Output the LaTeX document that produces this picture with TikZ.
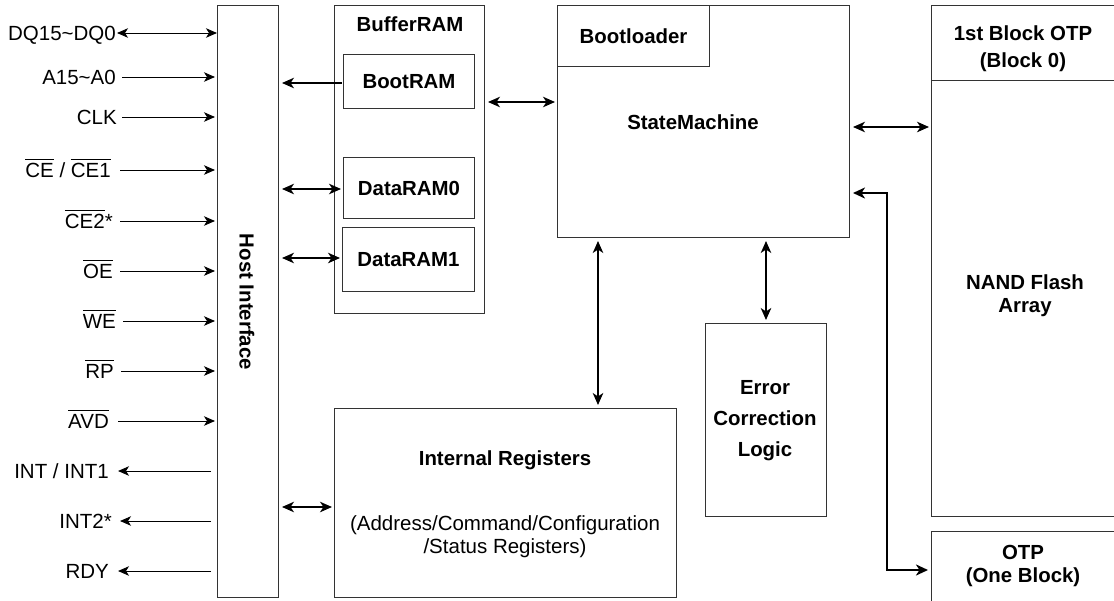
\documentclass[tikz,border=0pt]{standalone}
\usepackage{fontspec}
\setmainfont{Liberation Sans}
\usetikzlibrary{arrows.meta}
\newcommand{\ovl}[1]{\leavevmode\vbox{\hrule height 1.3pt\kern 3pt\hbox{#1}}}
\begin{document}
\begin{tikzpicture}[x=1pt,y=-1pt,
  every node/.style={inner sep=0pt, font=\fontsize{20.5}{23}\selectfont},
  bx/.style={draw=black!80, line width=1pt, anchor=north west, inner sep=0pt},
  bl/.style={font=\bfseries\fontsize{20.4}{23}\selectfont, align=center},
  sl/.style={anchor=east, text height=18.6pt, text depth=4pt},
  sig/.style={line width=1pt, -{Stealth[length=11pt,width=9.5pt,inset=3pt]}},
  sigb/.style={line width=1pt, {Stealth[length=11pt,width=9.5pt,inset=3pt]}-{Stealth[length=11pt,width=9.5pt,inset=3pt]}},
  lk/.style={line width=1.6pt, {Stealth[length=12pt,width=10.5pt,inset=3.5pt]}-{Stealth[length=12pt,width=10.5pt,inset=3.5pt]}},
  lkone/.style={line width=1.6pt, -{Stealth[length=12pt,width=10.5pt,inset=3.5pt]}},
  bent/.style={line width=2.4pt, {Stealth[length=12pt,width=11pt,inset=3.5pt]}-{Stealth[length=12pt,width=11pt,inset=3.5pt]}}
]
\useasboundingbox (0,0) rectangle (1114,600);
\clip (0,0) rectangle (1114,600);

% Host interface
\node[bx, minimum width=61pt, minimum height=592pt] (host) at (217,5) {};
\node[bl, rotate=-90] (hostlbl) at (247,302) {Host Interface};

% BufferRAM
\node[bx, minimum width=150pt, minimum height=308pt] (buf) at (334,5) {};
\node[bl] (buflbl) at (410,24) {BufferRAM};
\node[bx, bl, minimum width=131pt, minimum height=54pt] (bootram) at (343,54) {BootRAM};
\node[bx, bl, minimum width=131pt, minimum height=61pt] (dram0) at (343,157) {DataRAM0};
\node[bx, bl, minimum width=132pt, minimum height=64pt] (dram1) at (342,227) {DataRAM1};

% State machine
\node[bx, minimum width=292pt, minimum height=232pt] (sm) at (557,5) {};
\node[bx, bl, minimum width=152pt, minimum height=61pt] (boot) at (557,5) {Bootloader};
\node[bl] (smlbl) at (693,122) {StateMachine};

% NAND
\node[bx, minimum width=190pt, minimum height=511pt] (nand) at (931,5) {};
\node[bx, minimum width=190pt, minimum height=75pt] (otp1) at (931,5) {};
\node[bl, font=\bfseries\fontsize{20.4}{26.5}\selectfont] (otp1lbl) at (1023,48.5) {1st Block OTP\\(Block 0)};
\node[bl] (nandlbl) at (1025,296) {NAND Flash\\Array};
\node[bx, minimum width=190pt, minimum height=80pt] (otp) at (931,531) {};
\node[bl] (otplbl) at (1023,566) {OTP\\(One Block)};

% Error correction
\node[bx, minimum width=121pt, minimum height=193pt] (err) at (705,323) {};
\node[bl, font=\bfseries\fontsize{20.4}{31}\selectfont] (errlbl) at (765,421) {Error\\Correction\\Logic};

% Internal registers
\node[bx, minimum width=342pt, minimum height=189pt] (ir) at (334,408) {};
\node[bl] (irlbl) at (505,460) {Internal Registers};
\node[align=center] (irsub) at (505,537) {(Address/Command/Configuration\\/Status Registers)};

% Signals
\node[sl] (s1) at (116,33) {DQ15\textasciitilde DQ0};
\node[sl] (s2) at (116,77) {A15\textasciitilde A0};
\node[sl] (s3) at (117,117) {CLK};
\node[sl] (s4) at (111,170) {\ovl{CE} / \ovl{CE1}};
\node[sl] (s5) at (113,221) {\ovl{CE2}*};
\node[sl] (s6) at (113,271) {\ovl{OE}};
\node[sl] (s7) at (116,321) {\ovl{WE}};
\node[sl] (s8) at (114,371) {\ovl{RP}};
\node[sl] (s9) at (109,421) {\ovl{AVD}};
\node[sl] (s10) at (109,471) {INT / INT1};
\node[sl] (s11) at (112,521) {INT2*};
\node[sl] (s12) at (109,571) {RDY};

\draw[sigb] ([xshift=1pt]s1.east) -- (s1.east -| host.west);
\foreach \s/\g in {s2/6,s3/5,s4/9,s5/7,s6/7,s7/7,s8/7,s9/9}{
  \draw[sig, shorten >=2pt] ([xshift=\g pt]\s.east) -- (\s.east -| host.west);
}
\foreach \s/\g in {s10/9,s11/8,s12/9}{
  \draw[sig, shorten <=6pt] (\s.east -| host.west) -- ([xshift=\g pt]\s.east);
}

% Links
\draw[lkone, shorten >=3pt, shorten <=1pt] (bootram.west |- 0,83) -- (host.east |- 0,83);
\draw[lk, shorten >=2pt, shorten <=3pt] (host.east |- 0,189) -- (dram0.west |- 0,189);
\draw[lk, shorten >=2pt, shorten <=3pt] (host.east |- 0,258) -- (dram1.west |- 0,258);
\draw[lk, shorten >=2pt, shorten <=3pt] (host.east |- 0,507) -- (ir.west |- 0,507);
\draw[lk, shorten >=2pt, shorten <=3pt] (buf.east |- 0,102) -- (sm.west |- 0,102);
\draw[lk, shorten >=2pt, shorten <=3pt] (sm.east |- 0,127) -- (nand.west |- 0,127);
\draw[lk, shorten >=3pt, shorten <=3pt] (sm.south -| 598,0) -- (ir.north -| 598,0);
\draw[lk, shorten >=3pt, shorten <=3pt] (sm.south -| err.north) -- (err.north);
\draw[bent, shorten >=3pt, shorten <=3pt] (sm.east |- 0,193) -- (887,193) -- (887,570) -- (otp.west |- 0,570);
\end{tikzpicture}
\end{document}
